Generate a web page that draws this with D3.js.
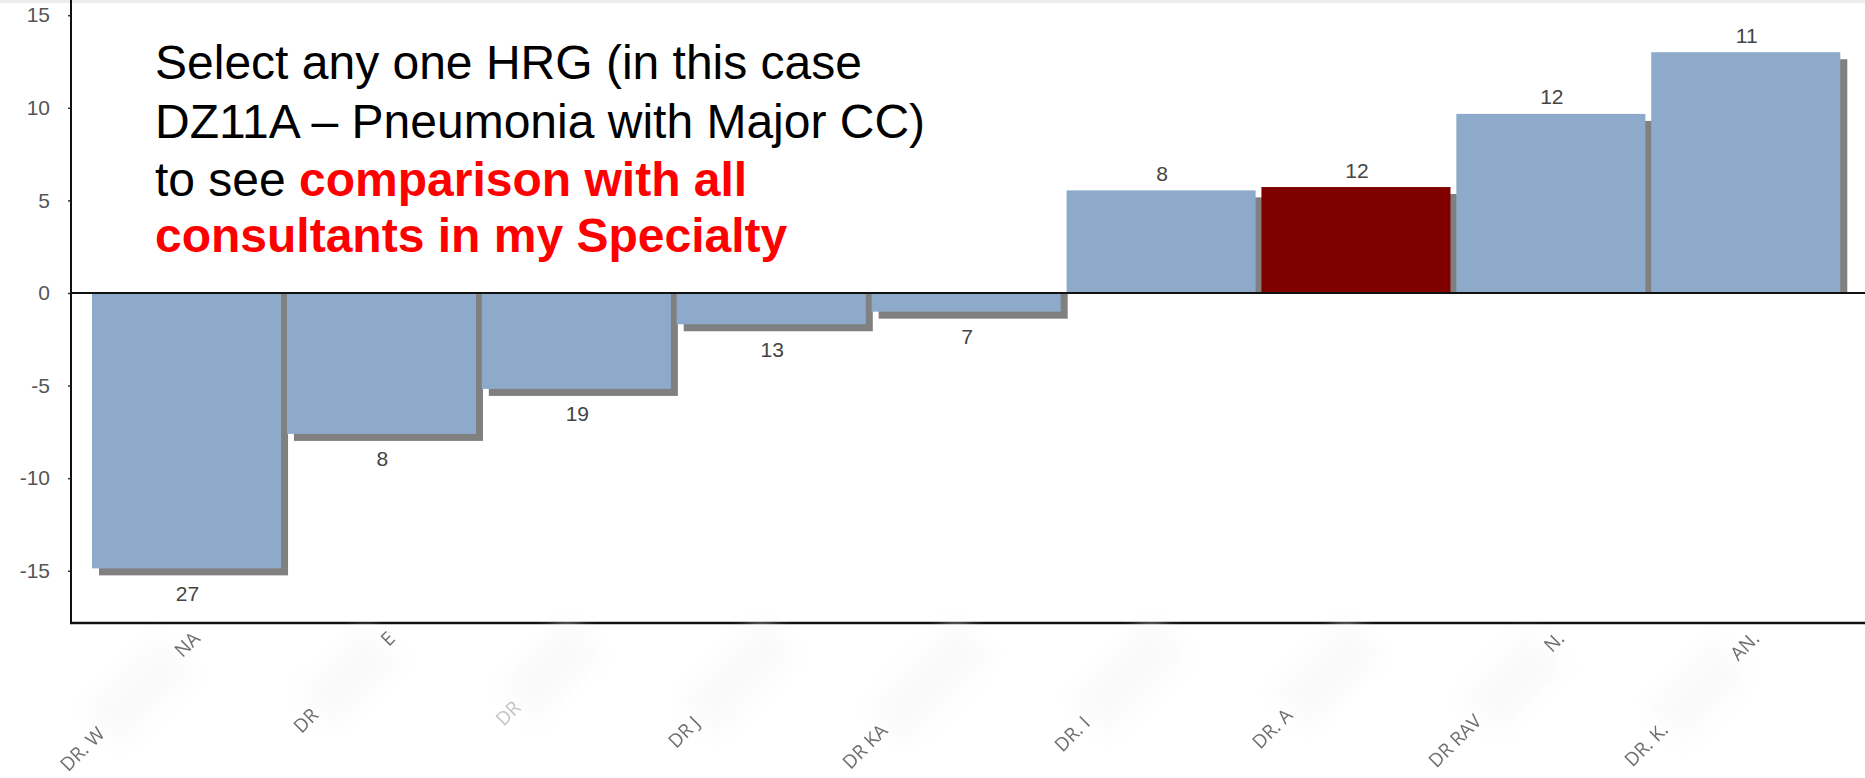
<!DOCTYPE html>
<html>
<head>
<meta charset="utf-8">
<script src="https://cdn.jsdelivr.net/npm/d3@7"></script>
<style>
  html, body { margin: 0; padding: 0; background: #fff; }
  svg { display: block; }
</style>
</head>
<body>
<svg id="chart" width="1865" height="778"></svg>
<script>
// Consultant labels: visible start and end of each name (middle is masked)
const consultantHeads = ["DR. W", "DR", "DR", "DR J", "DR KA", "DR. I", "DR. A", "DR RAV", "DR. K."];
const consultantTails = ["NA", "E", "", "", "", "", "", "N.", "AN."];
const maskedChars = [10, 9, 9, 11, 12, 11, 10, 9, 9];

// Variance against specialty average, per consultant
const variance = [-14.87, -7.61, -5.18, -1.69, -1.01, 5.54, 5.72, 9.67, 13.0];
// Number of episodes shown above / below each bar
const episodes = [27, 8, 19, 13, 7, 8, 12, 12, 11];
// Consultant highlighted in the comparison
const selectedIndex = 6;

const yTicks = [-15, -10, -5, 0, 5, 10, 15];

const noteLines = [
  [{ t: "Select any one HRG (in this case", red: false }],
  [{ t: "DZ11A \u2013 Pneumonia with Major CC)", red: false }],
  [{ t: "to see ", red: false }, { t: "comparison with all", red: true }],
  [{ t: "consultants in my Specialty", red: true }]
];

const W = 1865, H = 778;
const axisX = 71, plotTop = 0, plotBottom = 623, plotRight = W;
const shadowOffset = 7;

const svg = d3.select("#chart");

const idx = d3.range(variance.length);

const x = d3.scaleBand()
  .domain(idx)
  .range([92, 1840.3])
  .paddingInner(0.03)
  .paddingOuter(0);

const y = d3.scaleLinear()
  .domain([-17.82, 15.82])
  .range([plotBottom, plotTop]);

// faint top edge
svg.append("rect")
  .attr("x", 0).attr("y", 0).attr("width", W).attr("height", 3)
  .attr("fill", "#ececec");

// Drop shadows behind the bars
svg.append("g").selectAll("rect")
  .data(idx)
  .join("rect")
  .attr("x", i => x(i) + shadowOffset)
  .attr("width", x.bandwidth())
  .attr("y", i => Math.min(y(variance[i]) + shadowOffset, y(0)))
  .attr("height", i => Math.abs(y(variance[i]) + shadowOffset - y(0)))
  .attr("fill", "#808080");

// Bars
svg.append("g").selectAll("rect")
  .data(idx)
  .join("rect")
  .attr("x", i => x(i))
  .attr("width", x.bandwidth())
  .attr("y", i => Math.min(y(variance[i]), y(0)))
  .attr("height", i => Math.abs(y(variance[i]) - y(0)))
  .attr("fill", i => i === selectedIndex ? "#800000" : "#8eaaca");

// Episode counts
svg.append("g").selectAll("text")
  .data(idx)
  .join("text")
  .attr("x", i => x(i) + x.bandwidth() / 2 + 1)
  .attr("y", i => variance[i] >= 0 ? y(variance[i]) - 17 : y(variance[i]) + 25)
  .attr("dy", "0.36em")
  .attr("text-anchor", "middle")
  .attr("font-family", "Liberation Sans, Arial, sans-serif")
  .attr("font-size", 21)
  .attr("fill", "#444")
  .text(i => episodes[i]);

// Zero line
svg.append("line")
  .attr("x1", axisX).attr("x2", plotRight)
  .attr("y1", y(0)).attr("y2", y(0))
  .attr("stroke", "#111").attr("stroke-width", 2);

// Y axis
const yAxis = svg.append("g")
  .attr("transform", `translate(${axisX},0)`)
  .call(d3.axisLeft(y).tickValues(yTicks).tickSize(3).tickPadding(18).tickFormat(d => String(d)));
yAxis.select(".domain").remove();
yAxis.selectAll(".tick line").attr("stroke", "#333").attr("stroke-width", 1.5);
yAxis.selectAll(".tick text")
  .attr("font-family", "Liberation Sans, Arial, sans-serif")
  .attr("font-size", 21)
  .attr("fill", "#555");
svg.append("line")
  .attr("x1", axisX).attr("x2", axisX)
  .attr("y1", plotTop).attr("y2", plotBottom + 1)
  .attr("stroke", "#111").attr("stroke-width", 2);

// X axis line
svg.append("line")
  .attr("x1", axisX - 1).attr("x2", plotRight)
  .attr("y1", plotBottom).attr("y2", plotBottom)
  .attr("stroke", "#111").attr("stroke-width", 2.5);

// Consultant labels, rotated, with masked middle sections
const defs = svg.append("defs");
defs.append("filter").attr("id", "smear")
  .attr("x", "-50%").attr("y", "-50%").attr("width", "200%").attr("height", "200%")
  .append("feGaussianBlur").attr("stdDeviation", 9);

const labelText = i => consultantHeads[i] + "\u2007".repeat(maskedChars[i]) + consultantTails[i];

const xAxis = svg.append("g")
  .attr("transform", `translate(0,${plotBottom})`)
  .call(d3.axisBottom(x).tickSize(0).tickFormat(labelText));
xAxis.select(".domain").remove();

const labelGroups = xAxis.selectAll(".tick");
labelGroups.selectAll("text")
  .attr("font-family", "Open Sans, Noto Sans, sans-serif")
  .attr("font-size", 19)
  .attr("fill", "#555")
  .attr("text-anchor", "end")
  .attr("style", "white-space: pre")
  .attr("transform", "translate(10,12) rotate(-45)")
  .attr("x", 0).attr("y", 0).attr("dy", "0.35em")
  .attr("opacity", i => i === 2 ? 0.35 : 0.85);

// haze over the masked part of each name
labelGroups.each(function (i) {
  const g = d3.select(this);
  const t = g.select("text").node();
  const full = t.getComputedTextLength();
  const headLen = consultantHeads[i].length;
  const headW = t.getSubStringLength(0, headLen);
  const tailW = consultantTails[i].length ? t.getSubStringLength(headLen + maskedChars[i], consultantTails[i].length) : 0;
  g.insert("rect", "text")
    .attr("transform", "translate(10,12) rotate(-45)")
    .attr("x", -full + headW + 2)
    .attr("width", full - headW - tailW - 4)
    .attr("y", -26)
    .attr("height", 52)
    .attr("fill", "#f7f7f7")
    .attr("opacity", 0.6)
    .attr("filter", "url(#smear)");
});

// Annotation
const note = svg.append("text")
  .attr("font-family", "Liberation Sans, Arial, sans-serif")
  .attr("font-size", 48)
  .attr("fill", "#000");
const baselines = [79, 138, 196, 252];
noteLines.forEach((line, li) => {
  line.forEach((seg, si) => {
    const ts = note.append("tspan")
      .attr("fill", seg.red ? "#ff0000" : "#000")
      .attr("font-weight", seg.red ? "bold" : "normal")
      .text(seg.t);
    if (si === 0) ts.attr("x", 155).attr("y", baselines[li]);
  });
});
</script>
</body>
</html>
